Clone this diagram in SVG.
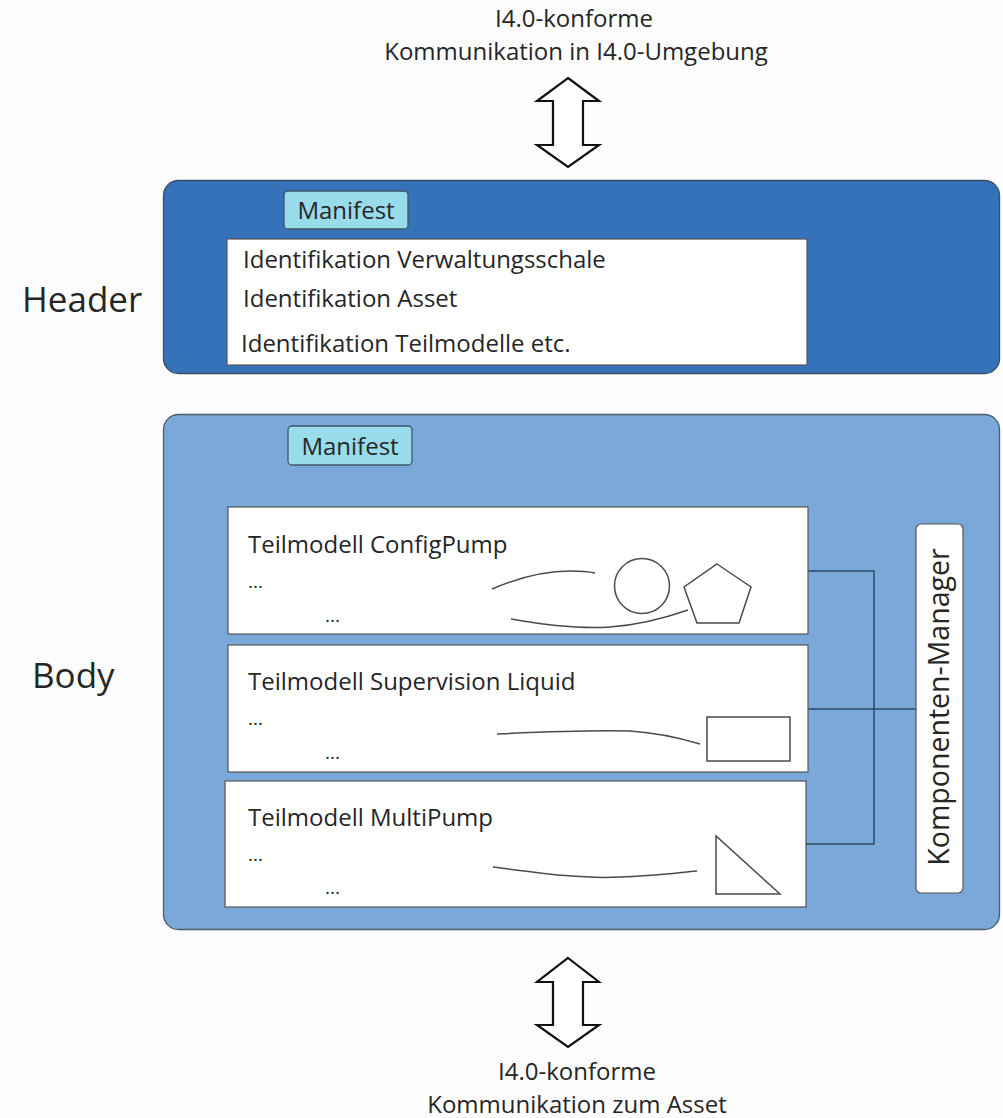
<svg xmlns="http://www.w3.org/2000/svg" width="1003" height="1118" viewBox="0 0 1003 1118">
<defs>
<style>
text{font-family:"Open Sans","Noto Sans","DejaVu Sans",sans-serif;fill:#262626}
.t20{font-size:24px}
.t21{font-size:24px}
.dots{font-size:19px}
.big{font-size:35px}
.km{font-size:28.5px}
.white{fill:#ffffff;stroke:#555555;stroke-width:1.2}
.manifest{fill:#98dbeb;stroke:#3f5666;stroke-width:1.3}
.shape{fill:none;stroke:#4a4a4a;stroke-width:1.5}
.conn{fill:none;stroke:#2e4864;stroke-width:1.5}
.arrow{fill:#ffffff;stroke:#111111;stroke-width:2.2;stroke-linejoin:miter}
</style>
</defs>
<rect x="0" y="0" width="1003" height="1118" fill="#fcfcfc"/>

<g id="top-label">
<text class="t20" x="574" y="27" text-anchor="middle">I4.0-konforme</text>
<text class="t20" x="576" y="60" text-anchor="middle">Kommunikation in I4.0-Umgebung</text>
</g>
<g id="top-arrow">
<polygon class="arrow" points="568,78 599,101 583,101 583,145 599,145 568,167 537,145 553,145 553,101 537,101"/>
</g>

<g id="header-label"><text class="big" x="22" y="312">Header</text></g>
<g id="body-label"><text class="big" x="32" y="688">Body</text></g>

<g id="header">
<rect x="163.5" y="180.5" width="836" height="193" rx="15" fill="#3672b9" stroke="#3a4f66" stroke-width="1.3"/>
</g>
<g id="header-manifest">
<rect class="manifest" x="284" y="191" width="124" height="38" rx="4"/>
<text class="t21" x="346" y="219" text-anchor="middle">Manifest</text>
</g>
<g id="header-identification">
<rect class="white" x="227" y="239" width="580" height="126"/>
<text class="t21" x="243" y="268">Identifikation Verwaltungsschale</text>
<text class="t21" x="243" y="307">Identifikation Asset</text>
<text class="t21" x="241" y="352">Identifikation Teilmodelle etc.</text>
</g>

<g id="body">
<rect x="163.5" y="414.5" width="836" height="515" rx="15" fill="#7aa8d8" stroke="#4b5e72" stroke-width="1.3"/>
</g>
<g id="body-manifest">
<rect class="manifest" x="288" y="426" width="124" height="39" rx="4"/>
<text class="t21" x="350" y="455" text-anchor="middle">Manifest</text>
</g>

<g id="connectors">
<polyline class="conn" points="808,571 874,571 874,844 806,844"/>
<line class="conn" x1="808" y1="709" x2="916" y2="709"/>
</g>

<g id="teilmodell-configpump">
<rect class="white" x="228" y="507" width="580" height="127"/>
<text class="t21" x="248" y="553">Teilmodell ConfigPump</text>
<text class="dots" x="248" y="588">...</text>
<text class="dots" x="325" y="622">...</text>
<path class="shape" d="M492,589 C520,577 545,571 570,571 C582,571 590,572 595,573"/>
<circle class="shape" cx="642" cy="586" r="27.5"/>
<polygon class="shape" points="717,564 751,587 739,623 697,623 684,587"/>
<path class="shape" d="M511,619 C545,625 580,629 610,627 C640,625 665,618 688,610"/>
</g>

<g id="teilmodell-supervision">
<rect class="white" x="228" y="645" width="580" height="127"/>
<text class="t21" x="248" y="690">Teilmodell Supervision Liquid</text>
<text class="dots" x="248" y="725">...</text>
<text class="dots" x="325" y="759">...</text>
<path class="shape" d="M497,734 C540,732 580,730 630,731 C660,733 680,738 700,744"/>
<rect class="shape" x="707" y="717" width="83" height="44"/>
</g>

<g id="teilmodell-multipump">
<rect class="white" x="225" y="781" width="581" height="126"/>
<text class="t21" x="248" y="826">Teilmodell MultiPump</text>
<text class="dots" x="248" y="861">...</text>
<text class="dots" x="325" y="894">...</text>
<path class="shape" d="M493,867 C540,873 580,879 620,877 C650,876 675,873 697,871"/>
<polygon class="shape" points="716,836 716,894 780,894"/>
</g>

<g id="komponenten-manager">
<rect class="white" x="916" y="524" width="47" height="369" rx="5"/>
<text class="km" x="0" y="0" text-anchor="middle" transform="translate(949,707) rotate(-90)">Komponenten-Manager</text>
</g>

<g id="bottom-arrow">
<polygon class="arrow" points="568,958 599,982 583,982 583,1025 599,1025 568,1047 537,1025 553,1025 553,982 537,982"/>
</g>
<g id="bottom-label">
<text class="t20" x="577" y="1080" text-anchor="middle">I4.0-konforme</text>
<text class="t20" x="577" y="1113" text-anchor="middle">Kommunikation zum Asset</text>
</g>
</svg>
